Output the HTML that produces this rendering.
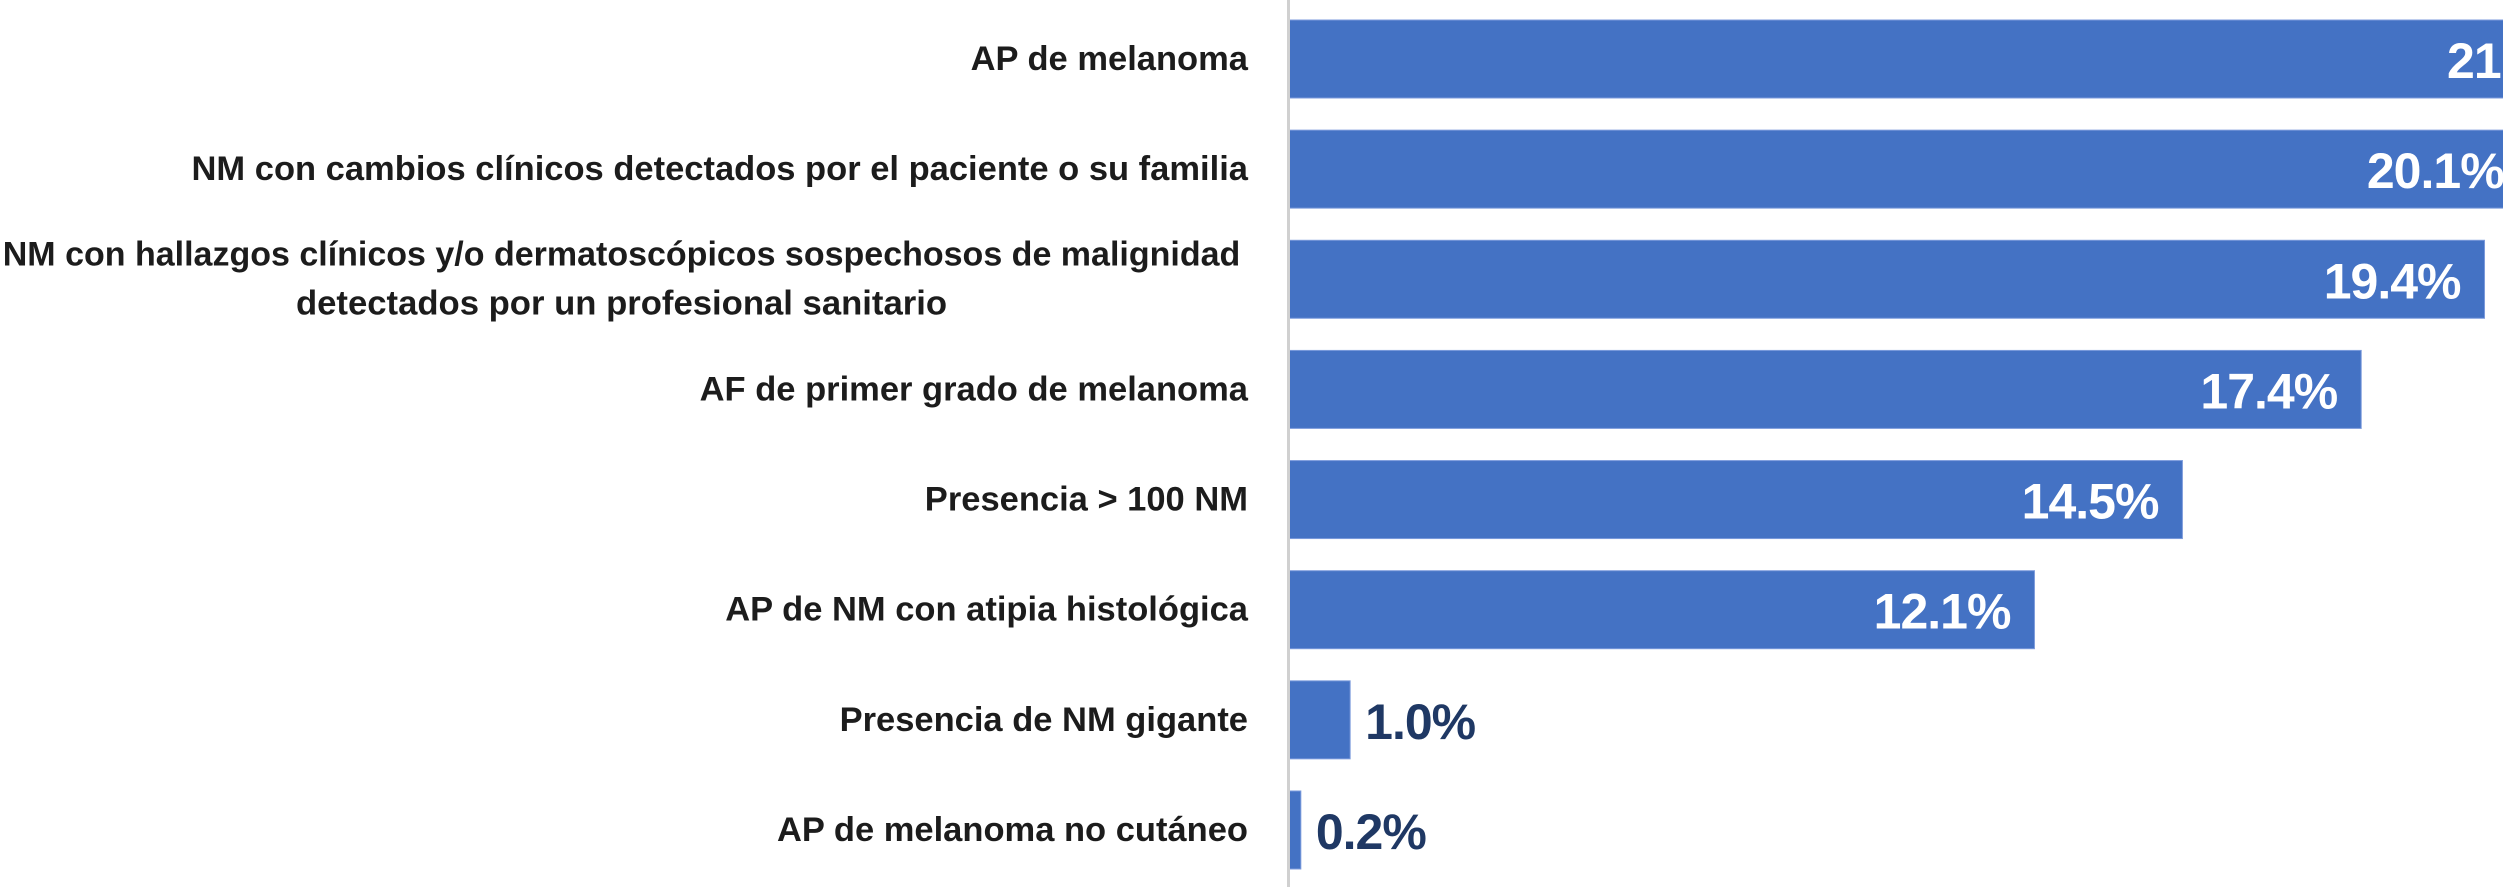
<!DOCTYPE html>
<html lang="es">
<head>
<meta charset="utf-8">
<title>Indicaciones de derivación</title>
<style>
  html, body { margin: 0; padding: 0; background: #fff; }
  svg { display: block; }
  text { font-family: "Liberation Sans", sans-serif; font-weight: 700; }
</style>
</head>
<body>
<svg id="chart" xmlns="http://www.w3.org/2000/svg" width="2508" height="890" viewBox="0 0 2508 890">
  <defs>
    <clipPath id="plot-clip"><rect x="1280" y="0" width="1223" height="890"></rect></clipPath>
  </defs>
  <rect x="0" y="0" width="2508" height="890" fill="#ffffff"></rect>
  <g id="labels"></g>
  <g id="plot" clip-path="url(#plot-clip)"></g>
  <rect x="1287" y="0" width="3" height="887" fill="#d0d0d0"></rect>
</svg>
<script>
const categories = [
  ["AP de melanoma"],
  ["NM con cambios clínicos detectados por el paciente o su familia"],
  ["NM con hallazgos clínicos y/o dermatoscópicos sospechosos de malignidad", "detectados por un profesional sanitario"],
  ["AF de primer grado de melanoma"],
  ["Presencia > 100 NM"],
  ["AP de NM con atipia histológica"],
  ["Presencia de NM gigante"],
  ["AP de melanoma no cutáneo"]
];
const values = [21.4, 20.1, 19.4, 17.4, 14.5, 12.1, 1.0, 0.2];

const SVG_NS = "http://www.w3.org/2000/svg";
const axisX0 = 1288.5, pxPerPercent = 61.65;
const bandTop = 20, bandStep = 110.14, barHeight = 78;
const insideThreshold = 5;

function xScale(v) { return axisX0 + v * pxPerPercent; }
function yScale(i) { return bandTop + i * bandStep; }

const plot = document.getElementById("plot");
const labels = document.getElementById("labels");

function addCategoryText(str, x, baseline, anchor, scaleX) {
  const t = document.createElementNS(SVG_NS, "text");
  
  
  t.setAttribute("transform", "translate(" + x + " " + baseline + ") scale(" + scaleX + " 1)");
  t.setAttribute("text-anchor", anchor);
  t.setAttribute("font-size", "34");
  t.setAttribute("fill", "#1c1c1c");
  t.textContent = str;
  labels.appendChild(t);
}

categories.forEach(function (lines, i) {
  const center = yScale(i) + barHeight / 2;
  if (lines.length === 1) {
    addCategoryText(lines[0], 1248, center + 11, "end", 1.015);
  } else {
    addCategoryText(lines[0], 621.5, center - 14, "middle", 1.0);
    addCategoryText(lines[1], 621.5, center + 35, "middle", 1.02);
  }

  const bar = document.createElementNS(SVG_NS, "rect");
  
  
  bar.setAttribute("x", axisX0);
  bar.setAttribute("y", yScale(i));
  bar.setAttribute("width", xScale(values[i]) - axisX0);
  bar.setAttribute("height", barHeight);
  bar.setAttribute("fill", "#4472c4");
  bar.setAttribute("stroke", "#7c9bdc");
  bar.setAttribute("stroke-width", "1");
  plot.appendChild(bar);

  const inside = values[i] > insideThreshold;
  const val = document.createElementNS(SVG_NS, "text");
  
  
  val.setAttribute("x", inside ? xScale(values[i]) - 24 : xScale(values[i]) + 15);
  val.setAttribute("y", center + 19);
  val.setAttribute("text-anchor", inside ? "end" : "start");
  val.setAttribute("font-size", "50");
  val.setAttribute("letter-spacing", "-1");
  val.setAttribute("fill", inside ? "#ffffff" : "#1f3864");
  val.textContent = values[i].toFixed(1) + "%";
  plot.appendChild(val);
});
</script>
</body>
</html>
